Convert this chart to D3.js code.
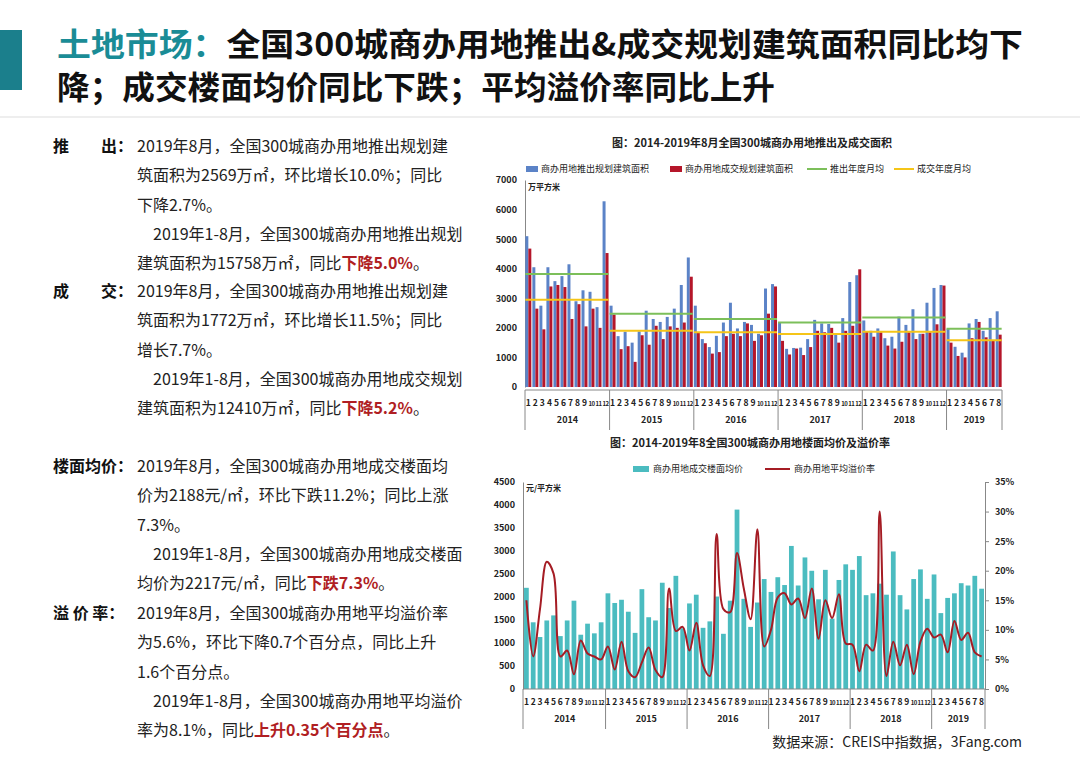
<!DOCTYPE html>
<html><head><meta charset="utf-8">
<script src="https://cdn.jsdelivr.net/npm/d3@7/dist/d3.min.js"></script>
<style>
body{margin:0;background:#fff;font-family:"Noto Sans CJK SC","Noto Sans",sans-serif;}
svg text{font-family:"Noto Sans CJK SC","Noto Sans",sans-serif;}
</style></head><body>
<svg id="c" width="1080" height="764"></svg>
<script>
const years=["2014","2015","2016","2017","2018","2019"];
const monthsPerYear=[12,12,12,12,12,8];
const supply=[5100,4050,2750,4050,3580,3750,4150,2900,3270,3220,2700,6280,
2750,1720,1870,1500,1880,2580,2300,2200,2370,2650,3450,4380,
2750,1620,1350,1730,2180,2850,1980,2200,2100,1800,3330,3480,
2180,1290,1320,1330,1620,2270,2150,2130,1780,2330,3550,3780,
2250,1900,1980,1650,1700,2380,2100,2630,1800,2850,3350,3450,
1970,1360,1160,2150,2300,1900,2330,2560];
const deal=[4680,2650,1950,3400,3450,3380,2300,2800,2050,2650,2000,4530,
2450,1280,1380,850,1750,1430,2070,1620,2050,2000,2180,3730,
1850,1480,1130,1180,1720,1800,1720,2150,1560,1750,2480,3400,
1560,1100,1300,1080,1350,1900,1850,2000,1500,1900,2070,3980,
1860,1700,1850,1400,1300,1530,1850,1620,1800,1850,2120,3430,
1500,1050,1000,1650,2200,1680,1580,1770];
const supplyAvg=[3820,2480,2300,2180,2350,1970];
const dealAvg=[2950,1900,1850,1790,1870,1580];
const price=[2200,1450,1130,1490,1600,1150,1490,1920,1180,1420,1210,1450,
2080,1870,1940,1680,1220,2170,1560,1490,2310,1760,2460,1320,
1860,2050,1330,1470,2010,1200,1920,3900,1960,1350,1880,2390,
2110,2430,2260,3110,2250,2860,2570,1950,2590,1530,2370,2710,
2590,2890,2040,2080,2290,2050,2990,2040,1730,2390,2600,1960,
2490,1650,1980,2080,2300,2250,2460,2180];
const premium=[15,5.5,13.5,21.5,19.5,5.5,6.5,2.5,8.2,6,5.5,5,
7.2,3.3,8,3,2,4.5,7,3.2,2,17,9.8,10.5,
6.5,11.2,4,2.2,26.2,13.5,13,23,17,11.8,27,7.2,
10,15.5,16.2,14.3,15.3,12,17,8.5,15,12,16,7.7,
7.5,3,7.5,6.5,30,2.2,8,4,7.5,2.5,8,10.2,
8.7,9.2,6.2,11.5,8.3,9.5,6.2,5.5];
const leftTicks1=[0,1000,2000,3000,4000,5000,6000,7000];
const leftTicks2=[0,500,1000,1500,2000,2500,3000,3500,4000,4500];
const rightTicks2=[0,5,10,15,20,25,30,35];

const svg=d3.select("#c");
const teal="#1a8c96";
svg.append("rect").attr("x",0).attr("y",30).attr("width",22).attr("height",60).attr("fill","#1b7f8c");
const t1=svg.append("text").attr("x",57).attr("y",56).attr("font-size",32).attr("font-weight","bold").attr("textLength",966).attr("lengthAdjust","spacingAndGlyphs");
t1.append("tspan").attr("fill",teal).text("土地市场：");
t1.append("tspan").attr("fill","#111").text("全国300城商办用地推出&成交规划建筑面积同比均下");
svg.append("text").attr("x",57).attr("y",99).attr("font-size",32).attr("font-weight","bold").attr("fill","#111").attr("textLength",718).attr("lengthAdjust","spacingAndGlyphs").text("降；成交楼面均价同比下跌；平均溢价率同比上升");
svg.append("line").attr("x1",0).attr("x2",1080).attr("y1",117).attr("y2",117).attr("stroke","#ddd");

const paras=[
 {label:"推　　出：",y:152,lines:[
  [["2019年8月，全国300城商办用地推出规划建"]],
  [["筑面积为2569万㎡，环比增长10.0%；同比"]],
  [["下降2.7%。"]],
  [["　2019年1-8月，全国300城商办用地推出规划"]],
  [["建筑面积为15758万㎡，同比"],["下降5.0%","r"],["。"]]]},
 {label:"成　　交：",y:297,lines:[
  [["2019年8月，全国300城商办用地推出规划建"]],
  [["筑面积为1772万㎡，环比增长11.5%；同比"]],
  [["增长7.7%。"]],
  [["　2019年1-8月，全国300城商办用地成交规划"]],
  [["建筑面积为12410万㎡，同比"],["下降5.2%","r"],["。"]]]},
 {label:"楼面均价：",y:472,lines:[
  [["2019年8月，全国300城商办用地成交楼面均"]],
  [["价为2188元/㎡，环比下跌11.2%；同比上涨"]],
  [["7.3%。"]],
  [["　2019年1-8月，全国300城商办用地成交楼面"]],
  [["均价为2217元/㎡，同比"],["下跌7.3%","r"],["。"]]]},
 {label:"溢 价 率：",y:619,lines:[
  [["2019年8月，全国300城商办用地平均溢价率"]],
  [["为5.6%，环比下降0.7个百分点，同比上升"]],
  [["1.6个百分点。"]],
  [["　2019年1-8月，全国300城商办用地平均溢价"]],
  [["率为8.1%，同比"],["上升0.35个百分点","r"],["。"]]]}
];
paras.forEach(p=>{
  svg.append("text").attr("x",53).attr("y",p.y).attr("font-size",16).attr("font-weight","bold").attr("fill","#111").text(p.label);
  p.lines.forEach((ln,i)=>{
    const t=svg.append("text").attr("x",137).attr("y",p.y+i*29.3).attr("font-size",16).attr("fill","#222");
    ln.forEach(s=>{const ts=t.append("tspan").text(s[0]); if(s[1]){ts.attr("fill","#b01e23").attr("font-weight","bold");}});
  });
});

const labels=[];years.forEach((y,i)=>{for(let m=1;m<=monthsPerYear[i];m++)labels.push({y:i,m});});
const idx=d3.range(labels.length);
function monthAxis(g,x,y0,x0,x1){
  g.append("line").attr("x1",x0).attr("x2",x1).attr("y1",y0).attr("y2",y0).attr("stroke","#888");
  labels.forEach((l,i)=>{g.append("text").attr("x",x(i)+x.bandwidth()/2).attr("y",y0+16).attr("text-anchor","middle").attr("font-size",l.m>=10?6:8.5).attr("font-weight","bold").attr("fill","#222").attr("letter-spacing",l.m>=10?-0.6:0).text(l.m);});
  let s=0;const b=[x0];
  monthsPerYear.forEach((n,i)=>{const a=x(s);const e=(s+n<labels.length)?x(s+n):x1; g.append("text").attr("x",(a+e)/2).attr("y",y0+33).attr("text-anchor","middle").attr("font-size",9).attr("font-weight","bold").attr("fill","#222").text(years[i]); s+=n;b.push(e);});
  b.forEach(v=>g.append("line").attr("x1",v).attr("x2",v).attr("y1",y0).attr("y2",y0+40).attr("stroke","#888"));
}
const fmt=d3.format("d");

{
const g=svg.append("g");
const L=525,R=1002,T=180,B=387;
g.append("text").attr("x",752).attr("y",147).attr("text-anchor","middle").attr("font-size",11).attr("font-weight","bold").attr("fill","#222").text("图：2014-2019年8月全国300城商办用地推出及成交面积");
const x=d3.scaleBand().domain(idx).range([L,R]).paddingInner(0.15).paddingOuter(0.05);
const y=d3.scaleLinear().domain([0,7000]).range([B,T]);
const ax=g.append("g").attr("transform",`translate(${L},0)`).call(d3.axisLeft(y).tickValues(leftTicks1).tickFormat(fmt).tickSize(0).tickPadding(8));
ax.select(".domain").attr("stroke","#888");ax.selectAll("text").attr("font-size",9).attr("font-weight","bold").attr("fill","#222");
g.append("text").attr("x",L+3).attr("y",T+10).attr("font-size",8).attr("font-weight","bold").attr("fill","#222").text("万平方米");
const bw=x.bandwidth()/2;
g.selectAll(".s").data(supply).join("rect").attr("x",(d,i)=>x(i)).attr("width",bw).attr("y",d=>y(d)).attr("height",d=>B-y(d)).attr("fill","#5b83c7");
g.selectAll(".d").data(deal).join("rect").attr("x",(d,i)=>x(i)+bw).attr("width",bw).attr("y",d=>y(d)).attr("height",d=>B-y(d)).attr("fill","#b5162a");
let s=0;
monthsPerYear.forEach((n,i)=>{const a=x(s),e=x(s+n-1)+x.bandwidth();
 g.append("line").attr("x1",a).attr("x2",e).attr("y1",y(supplyAvg[i])).attr("y2",y(supplyAvg[i])).attr("stroke","#7cbf5a").attr("stroke-width",2);
 g.append("line").attr("x1",a).attr("x2",e).attr("y1",y(dealAvg[i])).attr("y2",y(dealAvg[i])).attr("stroke","#f5c518").attr("stroke-width",2);
 s+=n;});
monthAxis(g,x,B+3,L,R);
const lg=g.append("g").attr("font-size",9).attr("fill","#222");
[[526,"rect","#5b83c7","商办用地推出规划建筑面积"],[670,"rect","#b5162a","商办用地成交规划建筑面积"],[815,"line","#7cbf5a","推出年度月均"],[902,"line","#f5c518","成交年度月均"]].forEach(d=>{
 if(d[1]=="rect")lg.append("rect").attr("x",d[0]).attr("y",166).attr("width",12).attr("height",6).attr("fill",d[2]);
 else lg.append("line").attr("x1",d[0]-8).attr("x2",d[0]+12).attr("y1",169).attr("y2",169).attr("stroke",d[2]).attr("stroke-width",2);
 lg.append("text").attr("x",d[0]+15).attr("y",172).text(d[3]);});
}

{
const g=svg.append("g");
const L=523,R=985,T=482,B=689;
g.append("text").attr("x",750).attr("y",447).attr("text-anchor","middle").attr("font-size",11).attr("font-weight","bold").attr("fill","#222").text("图：2014-2019年8全国300城商办用地楼面均价及溢价率");
const x=d3.scaleBand().domain(idx).range([L,R]).paddingInner(0.3).paddingOuter(0.15);
const y=d3.scaleLinear().domain([0,4500]).range([B,T]);
const y2=d3.scaleLinear().domain([0,35]).range([B,T]);
const ax=g.append("g").attr("transform",`translate(${L},0)`).call(d3.axisLeft(y).tickValues(leftTicks2).tickFormat(fmt).tickSize(0).tickPadding(8));
ax.select(".domain").attr("stroke","#888");ax.selectAll("text").attr("font-size",9).attr("font-weight","bold").attr("fill","#222");
const ar=g.append("g").attr("transform",`translate(${R},0)`).call(d3.axisRight(y2).tickValues(rightTicks2).tickSize(4).tickFormat(d=>d+"%").tickPadding(6));
ar.select(".domain").attr("stroke","#888");ar.selectAll("line").attr("stroke","#888");ar.selectAll("text").attr("font-size",9).attr("font-weight","bold").attr("fill","#222");
g.append("text").attr("x",L+3).attr("y",T+9).attr("font-size",8).attr("font-weight","bold").attr("fill","#222").text("元/平方米");
g.selectAll(".p").data(price).join("rect").attr("x",(d,i)=>x(i)).attr("width",x.bandwidth()).attr("y",d=>y(d)).attr("height",d=>B-y(d)).attr("fill","#4bbcc0");
const line=d3.line().x((d,i)=>x(i)+x.bandwidth()/2).y(d=>y2(d)).curve(d3.curveCatmullRom.alpha(0.5));
g.append("path").attr("d",line(premium)).attr("fill","none").attr("stroke","#a51c24").attr("stroke-width",2);
monthAxis(g,x,B,L,R);
const lg=g.append("g").attr("font-size",9).attr("fill","#222");
lg.append("rect").attr("x",633).attr("y",466).attr("width",16).attr("height",6).attr("fill","#4bbcc0");
lg.append("text").attr("x",653).attr("y",472).text("商办用地成交楼面均价");
lg.append("line").attr("x1",765).attr("x2",790).attr("y1",469).attr("y2",469).attr("stroke","#a51c24").attr("stroke-width",2);
lg.append("text").attr("x",794).attr("y",472).text("商办用地平均溢价率");
}
svg.append("text").attr("x",1022).attr("y",747).attr("text-anchor","end").attr("font-size",14).attr("fill","#222").text("数据来源：CREIS中指数据，3Fang.com");
</script></body></html>
